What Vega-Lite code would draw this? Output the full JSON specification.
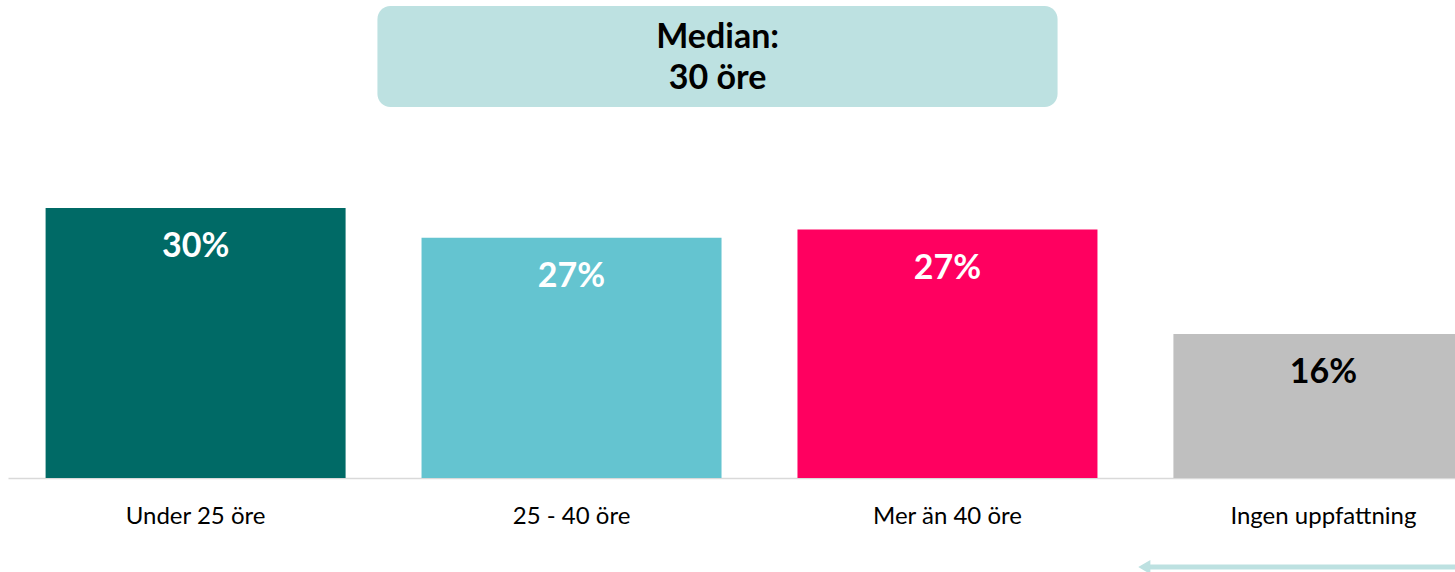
{
  "$schema": "https://vega.github.io/schema/vega-lite/v6.json",
  "width": 1447,
  "height": 478,
  "autosize": {"type": "none"},
  "padding": {"left": 8, "top": 0, "right": 0, "bottom": 94},
  "background": "white",
  "config": {"view": {"stroke": null}, "font": "Lato"},
  "data": {
    "values": [
      {"category": "Under 25 öre", "value": 30, "label": "30%"},
      {"category": "25 - 40 öre", "value": 26.7, "label": "27%"},
      {"category": "Mer än 40 öre", "value": 27.6, "label": "27%"},
      {"category": "Ingen uppfattning", "value": 16, "label": "16%"}
    ]
  },
  "layer": [
    {
      "mark": {"type": "bar"},
      "encoding": {
        "x": {
          "field": "category",
          "type": "nominal",
          "title": null,
          "scale": {
            "domain": ["Under 25 öre", "25 - 40 öre", "Mer än 40 öre", "Ingen uppfattning"],
            "range": [0, 1503],
            "paddingInner": 0.202,
            "paddingOuter": 0.1
          },
          "axis": {
            "labelAngle": 0,
            "ticks": false,
            "labelFontSize": 24,
            "labelLimit": 400,
            "labelColor": "#000000",
            "labelPadding": 26,
            "labelBaseline": "top",
            "domainColor": "#D9D9D9",
            "domainWidth": 1.5,
            "grid": false
          }
        },
        "y": {
          "field": "value",
          "type": "quantitative",
          "title": null,
          "axis": null,
          "scale": {"domain": [0, 53.11], "nice": false, "zero": true}
        },
        "color": {
          "field": "category",
          "type": "nominal",
          "legend": null,
          "scale": {
            "domain": ["Under 25 öre", "25 - 40 öre", "Mer än 40 öre", "Ingen uppfattning"],
            "range": ["#006A66", "#64C4D0", "#FF0060", "#BFBFBF"]
          }
        }
      }
    },
    {
      "mark": {"type": "text", "fontSize": 34, "fontWeight": "bold", "baseline": "alphabetic", "align": "center", "dy": 49},
      "encoding": {
        "x": {"field": "category", "type": "nominal", "title": null},
        "y": {"field": "value", "type": "quantitative", "title": null},
        "text": {"field": "label"},
        "color": {
          "condition": {"test": "datum.category === 'Ingen uppfattning'", "value": "#000000"},
          "value": "#FFFFFF"
        }
      }
    },
    {
      "data": {"values": [{"note": "Median:\n30 öre"}]},
      "layer": [
        {
          "mark": {"type": "rect", "cornerRadius": 13, "color": "#BDE1E1"},
          "encoding": {
            "x": {"datum": "25 - 40 öre", "type": "nominal", "bandPosition": -0.147},
            "x2": {"datum": "Mer än 40 öre", "bandPosition": 0.867},
            "y": {"datum": 52.44, "type": "quantitative"},
            "y2": {"datum": 41.22}
          }
        },
        {
          "mark": {"type": "text", "fontSize": 34, "fontWeight": "bold", "baseline": "alphabetic", "align": "center", "lineBreak": "\n", "lineHeight": 41, "color": "#000000"},
          "encoding": {
            "x": {"datum": "25 - 40 öre", "type": "nominal", "bandPosition": 0.987},
            "y": {"datum": 47.78, "type": "quantitative"},
            "text": {"field": "note"}
          }
        },
        {
          "mark": {"type": "rule", "color": "#BDE1E1", "strokeWidth": 5},
          "encoding": {
            "x": {"datum": "Ingen uppfattning", "type": "nominal", "bandPosition": -0.09},
            "x2": {"datum": "Ingen uppfattning", "bandPosition": 1.3},
            "y": {"datum": -9.9, "type": "quantitative"}
          }
        },
        {
          "mark": {"type": "point", "shape": "triangle-left", "filled": true, "size": 196, "color": "#BDE1E1", "opacity": 1},
          "encoding": {
            "x": {"datum": "Ingen uppfattning", "type": "nominal", "bandPosition": -0.097},
            "y": {"datum": -9.9, "type": "quantitative"}
          }
        }
      ]
    }
  ]
}
